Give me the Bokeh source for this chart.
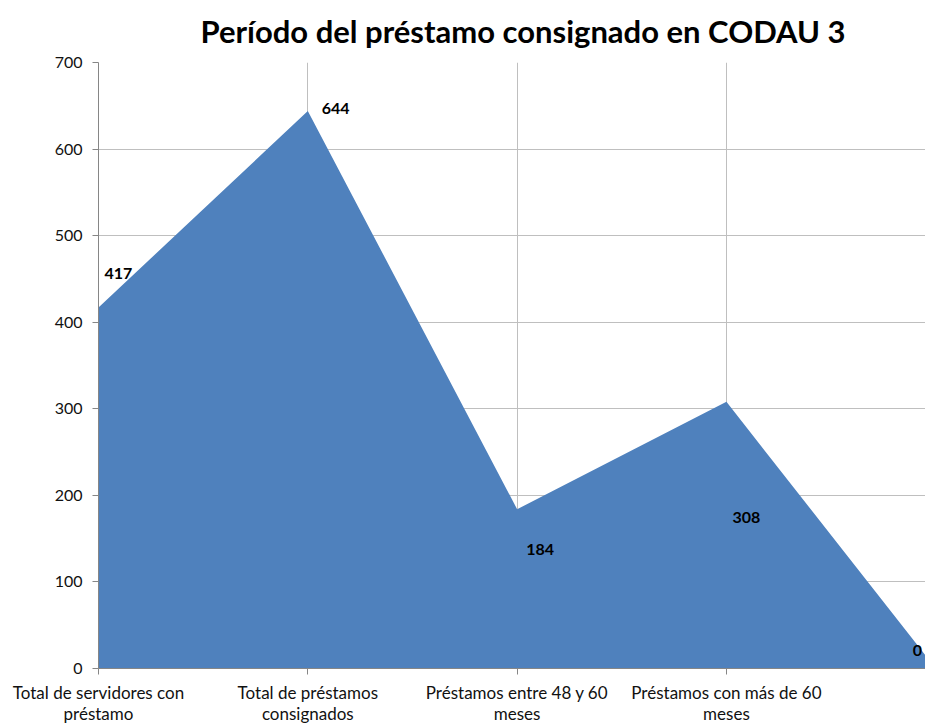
from bokeh.plotting import figure
from bokeh.models import ColumnDataSource, LabelSet, FixedTicker
from bokeh.core.properties import value
from bokeh.embed import file_html
from bokeh.resources import INLINE

# ---- data ----
categories = [
    "Total de servidores con\npréstamo",
    "Total de préstamos\nconsignados",
    "Préstamos entre 48 y 60\nmeses",
    "Préstamos con más de 60\nmeses",
    "",
]
values = [417, 644, 184, 308, 0]
y_ticks = [0, 100, 200, 300, 400, 500, 600, 700]
title_text = "Período del préstamo consignado en CODAU 3"

# label offsets (style, screen pixels)
label_dx = [6, 14, 9, 6, -23]
label_dy = [34, 2, -40, -116, 18]

xs = list(range(len(categories)))
src = ColumnDataSource(dict(
    x=xs, y=values, txt=[str(v) for v in values], dx=label_dx, dy=label_dy))

FONT = "Lato"
p = figure(width=925, height=726, output_backend="svg", toolbar_location=None,
           x_range=(0, 3.951), y_range=(0, 700),
           min_border_left=98, min_border_right=0, min_border_top=62,
           min_border_bottom=58)
p.outline_line_color = None
p.background_fill_color = "white"
p.border_fill_color = "white"

p.varea(x="x", y1=0, y2="y", source=src, fill_color="#4f81bd")

# title
p.title.text = title_text
p.title.text_font = FONT
p.title.text_font_style = "bold"
p.title.text_font_size = "31px"
p.title.text_color = "black"
p.title.vertical_align = "top"
p.title.align = "left"
p.title.offset = 102
p.title.standoff = 22

# axes
p.xaxis.ticker = FixedTicker(ticks=xs[:-1])
p.xaxis.major_label_overrides = {i: c for i, c in enumerate(categories)}
p.yaxis.ticker = FixedTicker(ticks=y_ticks)
for ax in (p.xaxis[0], p.yaxis[0]):
    ax.axis_line_color = "#868686"
    ax.major_tick_line_color = "#868686"
    ax.major_tick_out = 6
    ax.major_tick_in = 0
    ax.minor_tick_line_color = None
    ax.major_label_text_font = FONT
    ax.major_label_text_color = "#111111"
p.xaxis.major_label_text_font_size = "17px"
p.xaxis.major_label_text_line_height = 1.0
p.yaxis.major_label_text_font_size = "16px"
p.yaxis.major_label_standoff = 10
p.xaxis.major_label_standoff = 7

p.xgrid.ticker = FixedTicker(ticks=xs[:-1])
p.ygrid.ticker = FixedTicker(ticks=y_ticks)
p.xgrid.grid_line_color = "#bfbfbf"
p.ygrid.grid_line_color = "#bfbfbf"

labels = LabelSet(x="x", y="y", text="txt", source=src, x_offset="dx", y_offset="dy",
                  text_font=value(FONT), text_font_style="bold", text_font_size="16px",
                  text_color="black", text_align="left", text_baseline="middle")
p.add_layout(labels)

open("out.html", "w").write(file_html(p, INLINE))
